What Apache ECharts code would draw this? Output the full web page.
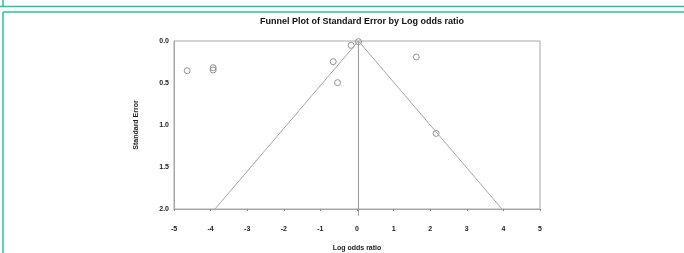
<!DOCTYPE html>
<html>
<head>
<meta charset="utf-8">
<script src="https://cdn.jsdelivr.net/npm/echarts@6/dist/echarts.min.js"></script>
<style>
  html, body { margin: 0; padding: 0; background: #fff; }
  #chart { width: 684px; height: 253px; }
</style>
</head>
<body>
<div id="chart"></div>
<script>
// studies: [log odds ratio, standard error]
const studies = [
  [-4.64, 0.354],
  [-3.93, 0.318],
  [-3.93, 0.345],
  [-0.65, 0.246],
  [-0.53, 0.496],
  [-0.16, 0.052],
  [0.04, 0.008],
  [1.62, 0.19],
  [2.16, 1.10]
];
// funnel limits
const funnelLeft = [[0.04, 0], [-3.88, 2]];
const funnelRight = [[0.04, 0], [3.96, 2]];
const pooledLine = [[0.04, 0], [0.04, 2.08]];
const xTicks = [-5, -4, -3, -2, -1, 0, 1, 2, 3, 4, 5];
const yTicks = [0, 0.5, 1, 1.5, 2];

const chart = echarts.init(document.getElementById('chart'));
const lineGray = '#a6a6a6';
const labelStyle = { color: '#222', fontSize: 7, fontWeight: 'bold', fontFamily: 'Arial, Liberation Sans' };

const option = {
  animation: false,
  backgroundColor: '#fff',
  // green panel borders of the page
  graphic: [
    { type: 'line', shape: { x1: 0, y1: 6.5, x2: 684, y2: 6.5 }, style: { stroke: '#25c3a1', lineWidth: 1.5 } },
    { type: 'line', shape: { x1: 3, y1: 0, x2: 3, y2: 6.5 }, style: { stroke: '#25c3a1', lineWidth: 1.5 } },
    { type: 'line', shape: { x1: 3, y1: 12, x2: 684, y2: 12 }, style: { stroke: '#25c3a1', lineWidth: 1.5 } },
    { type: 'line', shape: { x1: 3, y1: 12, x2: 3, y2: 253 }, style: { stroke: '#25c3a1', lineWidth: 1.5 } }
  ],
  title: {
    text: 'Funnel Plot of Standard Error by Log odds ratio',
    left: 357,
    textAlign: 'center',
    top: 12,
    textStyle: { fontSize: 9, fontWeight: 'bold', color: '#111', fontFamily: 'Arial, Liberation Sans' }
  },
  grid: {
    left: 174, right: 144, top: 41, bottom: 44,
    outerBoundsMode: 'none',
    containLabel: false,
    show: true, borderColor: lineGray, borderWidth: 1
  },
  xAxis: {
    type: 'value',
    min: xTicks[0], max: xTicks[xTicks.length - 1], interval: 1,
    name: 'Log odds ratio',
    nameLocation: 'middle',
    nameGap: 36,
    nameTextStyle: labelStyle,
    axisLine: { show: true, onZero: false, lineStyle: { color: lineGray } },
    axisTick: { show: true, length: 2, inside: false, lineStyle: { color: '#888' } },
    axisLabel: Object.assign({ margin: 17 }, labelStyle),
    splitLine: { show: false }
  },
  yAxis: {
    type: 'value',
    inverse: true,
    min: yTicks[0], max: yTicks[yTicks.length - 1], interval: 0.5,
    name: 'Standard Error',
    nameLocation: 'middle',
    nameGap: 34,
    nameRotate: 90,
    nameTextStyle: labelStyle,
    axisLine: { show: true, onZero: false, lineStyle: { color: lineGray } },
    axisTick: { show: false },
    axisLabel: Object.assign({ margin: 5, formatter: v => v.toFixed(1) }, labelStyle),
    splitLine: { show: false }
  },
  series: [
    {
      type: 'line', data: funnelLeft, symbol: 'none',
      lineStyle: { color: lineGray, width: 1 }
    },
    {
      type: 'line', data: funnelRight, symbol: 'none',
      lineStyle: { color: lineGray, width: 1 }
    },
    {
      type: 'line', data: pooledLine, symbol: 'none', clip: false,
      lineStyle: { color: '#999', width: 1 }
    },
    {
      type: 'scatter', data: studies,
      symbol: 'circle', symbolSize: 6,
      itemStyle: { color: 'rgba(255,255,255,0)', borderColor: '#7a7a7a', borderWidth: 0.8, opacity: 1 }
    }
  ]
};
chart.setOption(option);
</script>
</body>
</html>
